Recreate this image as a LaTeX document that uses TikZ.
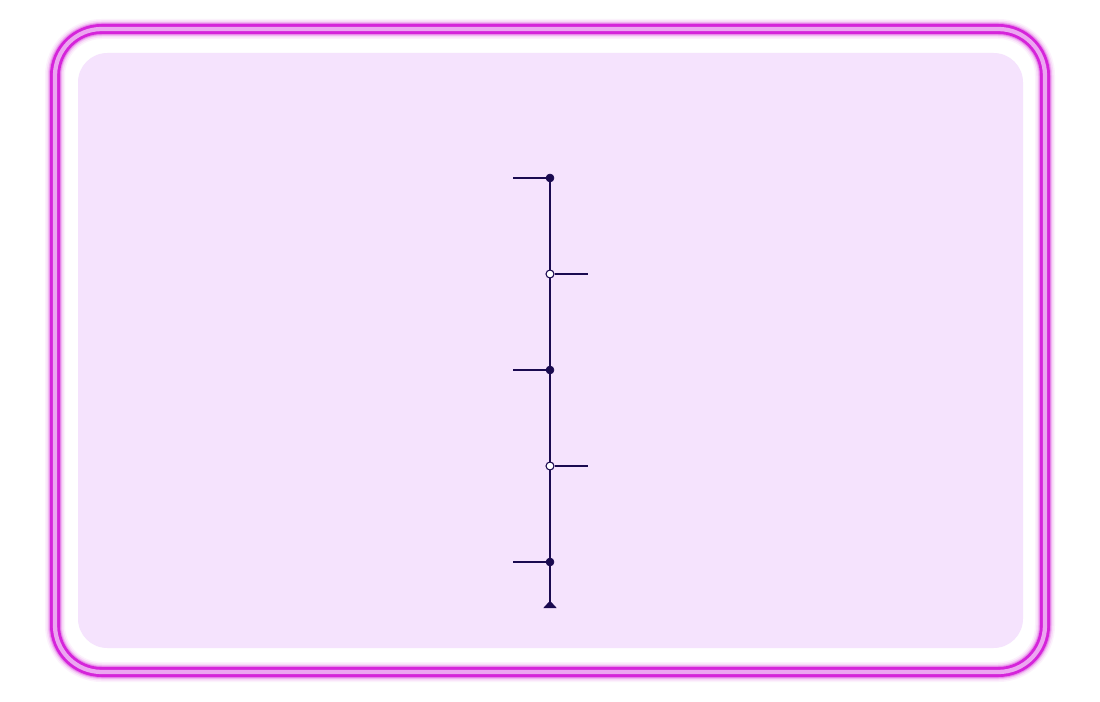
\documentclass[tikz,border=0pt]{standalone}
\usetikzlibrary{arrows.meta}
\definecolor{glow}{HTML}{D524DA}
\definecolor{glowlight}{HTML}{ECA6F1}
\definecolor{panel}{HTML}{F5E3FD}
\definecolor{ink}{HTML}{1A0A50}
\tikzset{
  fdot/.style={circle,fill=ink,draw=ink,inner sep=0pt,minimum size=6pt},
  odot/.style={circle,fill=white,draw=ink,line width=0.8pt,inner sep=0pt,minimum size=6pt},
  tick/.style={draw=ink,line width=1pt},
  spine/.style={draw=ink,line width=1pt}
}
\begin{document}
\begin{tikzpicture}[x=0.75pt,y=-0.75pt]
\useasboundingbox (0,0) rectangle (1100,702);
\fill[white] (0,0) rectangle (1100,702);
% glow frame
\foreach \w/\o in {20/0.06,17/0.10,14/0.18,12/0.3}{
  \draw[glow,line width=\w*0.75pt,opacity=\o,rounded corners=35pt] (55,29) rectangle (1045,672);
}
\draw[glow,line width=7.5pt,rounded corners=35pt] (55,29) rectangle (1045,672);
\draw[glowlight,line width=3.2pt,rounded corners=35pt] (55,29) rectangle (1045,672);
% panel
\fill[panel,rounded corners=22pt] (78,53) rectangle (1023,648);
% diagram
\coordinate (t1) at (513,178);
\coordinate (t2) at (588,274);
\coordinate (t3) at (513,370);
\coordinate (t4) at (588,466);
\coordinate (t5) at (513,562);
\coordinate (e) at (550,608);
\draw[spine] (550,178) -- (e);
\node[fdot] (d1) at (550,178) {};
\node[odot] (d2) at (550,274) {};
\node[fdot] (d3) at (550,370) {};
\node[odot] (d4) at (550,466) {};
\node[fdot] (d5) at (550,562) {};
\draw[tick] (t1) -- (d1.center);
\draw[tick] (d2.east) -- (t2);
\draw[tick] (t3) -- (d3.center);
\draw[tick] (d4.east) -- (t4);
\draw[tick] (t5) -- (d5.center);
\fill[ink] ([xshift=-5pt]e) -- ([xshift=5pt]e) -- ([yshift=5.5pt]e) -- cycle;
\end{tikzpicture}
\end{document}
